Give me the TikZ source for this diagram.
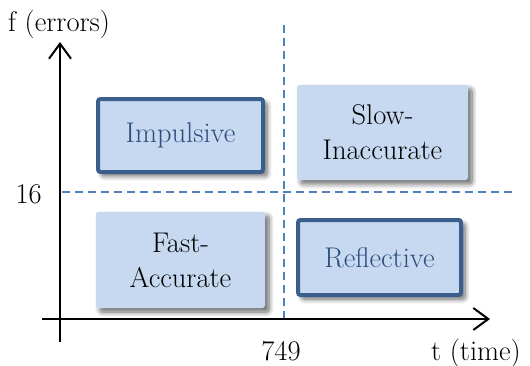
\documentclass[tikz,border=0pt]{standalone}
\usetikzlibrary{arrows.meta,shadows.blur}
\definecolor{boxfill}{HTML}{C6D9F0}
\definecolor{boxline}{HTML}{3A5F8C}
\definecolor{boxtext}{HTML}{2E4E7E}
\definecolor{dashblue}{HTML}{4F81BD}
\tikzset{
  lbl/.style={inner sep=0pt, font=\fontsize{28.5}{33}\selectfont},
  quad/.style={fill=boxfill, rounded corners=2.5pt, align=center, inner sep=0pt,
    font=\fontsize{28.5}{35}\selectfont,
    blur shadow={shadow xshift=4pt, shadow yshift=-4pt, shadow blur radius=5pt, shadow blur steps=8, shadow opacity=60}},
  strong/.style={quad, draw=boxline, line width=4pt, text=boxtext},
  axis/.style={line width=1.8pt, -{Straight Barb[length=15pt,width=22pt,line width=2pt]}},
  guide/.style={dashblue, line width=1.3pt, dash pattern=on 8pt off 5pt}
}
\begin{document}
\begin{tikzpicture}[x=1pt,y=1pt]
\useasboundingbox (0,0) rectangle (530,365);
\coordinate (ys) at (60,23);
\coordinate (ye) at (60,323);
\coordinate (xs) at (42,46);
\coordinate (xe) at (490,46);
\coordinate (hs) at (62,173);
\coordinate (he) at (512,173);
\coordinate (vs) at (284,340);
\coordinate (ve) at (284,43);
\draw[guide] (hs) -- (he);
\draw[guide] (vs) -- (ve);
\draw[axis] (ys) -- (ye);
\draw[axis] (xs) -- (xe);
\node[strong, minimum width=165pt, minimum height=73pt] (imp) at (180.5,229.5) {Impulsive};
\node[quad, minimum width=171pt, minimum height=95pt] (slow) at (382.5,232.5) {Slow-\\Inaccurate};
\node[quad, minimum width=169pt, minimum height=96pt] (fast) at (180.5,105) {Fast-\\Accurate};
\node[strong, minimum width=163pt, minimum height=75pt] (refl) at (379.5,107.5) {Reflective};
\node[lbl, anchor=base west] (fl) at (8,333) {f (errors)};
\node[lbl, anchor=base east] (sixteen) at (42,162) {16};
\node[lbl, anchor=base] (tick) at (281,5) {749};
\node[lbl, anchor=base east] (tl) at (521,5) {t (time)};
\end{tikzpicture}
\end{document}
